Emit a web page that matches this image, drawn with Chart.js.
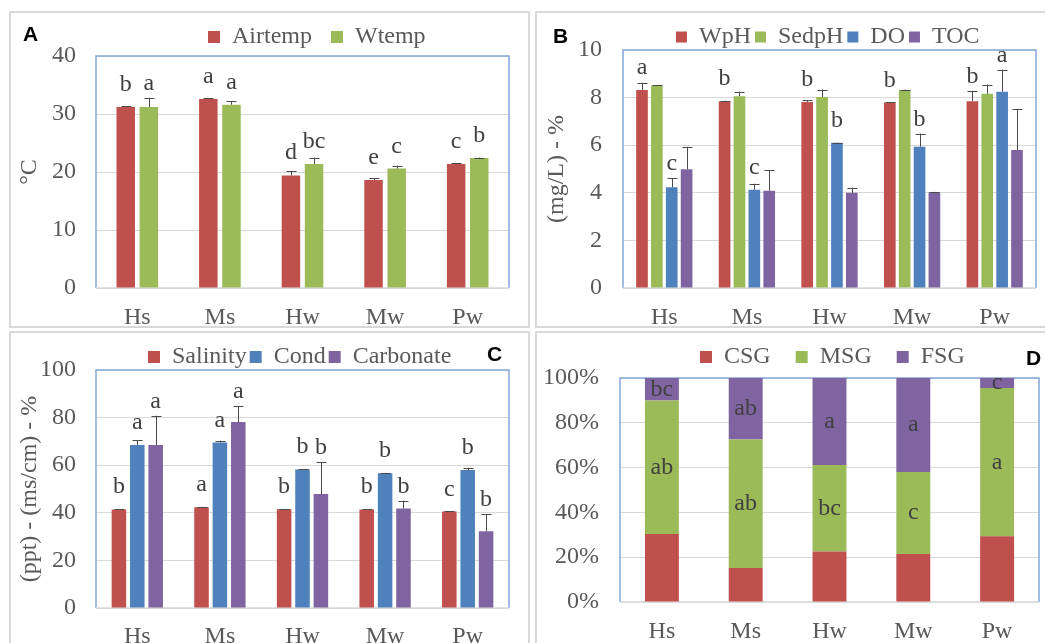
<!DOCTYPE html>
<html><head><meta charset="utf-8">
<script src="https://cdn.jsdelivr.net/npm/chart.js@4"></script>
<style>
html,body{margin:0;padding:0;background:#fff;width:1045px;height:643px;overflow:hidden;}
.box{position:absolute;border:2px solid #d9d9d9;box-sizing:border-box;}
canvas{position:absolute;}
.tag{position:absolute;font:bold 21px 'Liberation Sans',Arial,sans-serif;line-height:21px;color:#000;}
</style></head><body>
<div class="box" style="left:9px;top:11px;width:521px;height:317px"></div>
<div class="box" style="left:535px;top:11px;width:520px;height:317px"></div>
<div class="box" style="left:9px;top:331px;width:521px;height:400px"></div>
<div class="box" style="left:535px;top:331px;width:520px;height:400px"></div>
<canvas id="cA" width="518" height="316" style="left:10px;top:12px"></canvas>
<canvas id="cB" width="508" height="316" style="left:537px;top:12px"></canvas>
<canvas id="cC" width="518" height="320" style="left:10px;top:333px"></canvas>
<canvas id="cD" width="508" height="320" style="left:537px;top:333px"></canvas>
<div class="tag" style="left:23px;top:23px">A</div>
<div class="tag" style="left:553px;top:25px">B</div>
<div class="tag" style="left:487px;top:343px">C</div>
<div class="tag" style="left:1026px;top:347px">D</div>
<script>
// ---- data ----
const sites = ['Hs','Ms','Hw','Mw','Pw'];

const airtemp    = [31.2, 32.6, 19.4, 18.6, 21.4];
const airtempErr = [0.1, 0.15, 0.7, 0.3, 0.1];
const airtempSig = ['b','a','d','e','c'];
const wtemp      = [31.2, 31.6, 21.4, 20.6, 22.4];
const wtempErr   = [1.6, 0.6, 1.1, 0.5, 0.1];
const wtempSig   = ['a','a','bc','c','b'];
const ticksA     = [0, 10, 20, 30, 40];

const wph      = [8.32, 7.85, 7.82, 7.79, 7.85];
const wphErr   = [0.3, 0.02, 0.07, 0.02, 0.44];
const wphSig   = ['a','b','b','b','b'];
const sedph    = [8.51, 8.06, 8.02, 8.32, 8.16];
const sedphErr = [0.02, 0.19, 0.32, 0.02, 0.39];
const doVal    = [4.23, 4.13, 6.1, 5.94, 8.25];
const doErr    = [0.39, 0.25, 0.01, 0.55, 0.93];
const doSig    = ['c','c','b','b','a'];
const toc      = [4.99, 4.09, 4.0, 4.02, 5.8];
const tocErr   = [0.94, 0.85, 0.22, 0.02, 1.73];
const ticksB   = [0, 2, 4, 6, 8, 10];

const salinity     = [41.4, 42.3, 41.5, 41.4, 40.5];
const salinityErr  = [0.2, 0.2, 0.1, 0.2, 0.2];
const salinitySig  = ['b','a','b','b','c'];
const cond         = [68.5, 69.5, 58.2, 56.6, 58.0];
const condErr      = [2.0, 0.8, 0.2, 0.2, 0.9];
const condSig      = ['a','a','b','b','b'];
const carbonate    = [68.5, 78.1, 47.9, 41.8, 32.2];
const carbonateErr = [12.3, 6.7, 13.3, 3.3, 7.3];
const carbonateSig = ['a','a','b','b','b'];
const ticksC       = [0, 20, 40, 60, 80, 100];

const csg    = [30.4, 15.2, 22.5, 21.4, 29.3];
const msg    = [59.5, 57.4, 38.7, 36.6, 66.2];
const msgSig = ['ab','ab','bc','c','a'];
const fsg    = [10.1, 27.4, 38.8, 42.0, 4.5];
const fsgSig = ['bc','ab','a','a','c'];
const ticksD = [0, 20, 40, 60, 80, 100];

// ---- style ----
const FONT = "'Liberation Serif','Times New Roman',serif";
const FS = 24;
const TXT = '#595959';
const RED = '#c0504d', GREEN = '#9bbb59', BLUE = '#4f81bd', PURPLE = '#8064a2';
Chart.defaults.font.family = FONT;
Chart.defaults.font.size = FS;
Chart.defaults.color = TXT;

const plotFrame = {
  id: 'plotFrame',
  beforeDatasetsDraw(chart) {
    const {ctx, chartArea: a} = chart;
    ctx.save();
    ctx.lineWidth = 1.5;
    ctx.strokeStyle = '#82a8d8';
    ctx.beginPath();
    ctx.moveTo(a.left, a.bottom); ctx.lineTo(a.left, a.top);
    ctx.lineTo(a.right, a.top); ctx.lineTo(a.right, a.bottom);
    ctx.stroke();
    ctx.strokeStyle = '#d9d9d9';
    ctx.beginPath(); ctx.moveTo(a.left, a.bottom); ctx.lineTo(a.right, a.bottom); ctx.stroke();
    ctx.restore();
  }
};

const marks = {
  id: 'marks',
  afterDatasetsDraw(chart) {
    const {ctx} = chart;
    const ys = chart.scales.y;
    ctx.save();
    chart.data.datasets.forEach((ds, i) => {
      const meta = chart.getDatasetMeta(i);
      meta.data.forEach((bar, j) => {
        const top = bar.y;
        let errTop = null;
        const bx = Math.round(bar.x) + 0.5;
        if (ds.errPlus) {
          errTop = ys.getPixelForValue(ds.data[j] + ds.errPlus[j]);
          ctx.strokeStyle = '#4a4a4a'; ctx.lineWidth = 1;
          ctx.beginPath();
          ctx.moveTo(bx, top); ctx.lineTo(bx, errTop);
          ctx.moveTo(bx - 5, Math.round(errTop) + 0.5); ctx.lineTo(bx + 5, Math.round(errTop) + 0.5);
          ctx.stroke();
        }
        const s = ds.sig && ds.sig[j];
        if (s) {
          ctx.fillStyle = '#404040';
          ctx.font = FS + 'px ' + FONT;
          ctx.textAlign = 'center';
          if (ds.sigInside) {
            ctx.textBaseline = 'middle';
            ctx.fillText(s, bar.x, (bar.y + bar.base) / 2);
          } else {
            ctx.textBaseline = 'alphabetic';
            const base = Math.min(top - 16, (errTop === null ? top : errTop) - 8);
            ctx.fillText(s, bar.x, base);
          }
        }
      });
    });
    ctx.restore();
  }
};

function legendPlace(x, y) {
  return {
    id: 'legendPlace',
    afterUpdate(chart) {
      const L = chart.legend;
      if (!L || !L.legendHitBoxes || !L.legendHitBoxes.length) return;
      const p = L.options.labels.padding;
      const ih = FS;
      const dx = x - L.legendHitBoxes[0].left;
      const newTop = y - p - ih / 2;
      const dy = newTop - L.top;
      L.left += dx; L.right += dx;
      L.top = newTop; L.bottom = newTop + p + ih + 10;
      L.legendHitBoxes.forEach(h => { h.left += dx; h.top += dy; });
    }
  };
}

function build(id, datasets, o) {
  return new Chart(document.getElementById(id), {
    type: 'bar',
    data: {labels: sites, datasets},
    plugins: [plotFrame, marks, legendPlace(o.legX, o.legY)],
    options: {
      responsive: false, animation: false,
      layout: {padding: {left: 0, right: o.padR, top: 0, bottom: 0}},
      datasets: {bar: {barPercentage: o.barPct, categoryPercentage: o.catPct, borderWidth: 0}},
      plugins: {
        legend: {position: 'top', maxHeight: o.top,
          labels: {boxWidth: o.box, boxHeight: o.box, padding: o.legPad, color: TXT, font: {size: FS}}},
        tooltip: {enabled: false}
      },
      scales: {
        x: {stacked: !!o.stacked, grid: {display: false, drawTicks: false}, border: {display: false},
            ticks: {padding: o.xPad, color: TXT, font: {size: FS}},
            afterFit: s => { s.height = o.xH; }},
        y: {stacked: !!o.stacked, min: o.yTicks[0], max: o.yTicks[o.yTicks.length - 1],
            grid: {color: '#d9d9d9', drawTicks: false, lineWidth: 1}, border: {display: false},
            ticks: {stepSize: o.yTicks[1] - o.yTicks[0], padding: o.yPad, color: TXT, font: {size: FS},
                    callback: o.yFmt || (v => v)},
            title: {display: !!o.yTitle, text: o.yTitle || '', color: TXT, font: {size: FS}, padding: {top: 5, bottom: 0}},
            afterFit: s => { s.width = o.yW; }}
      }
    }
  });
}

build('cA', [
  {label: 'Airtemp', data: airtemp, backgroundColor: RED, errPlus: airtempErr, sig: airtempSig},
  {label: 'Wtemp', data: wtemp, backgroundColor: GREEN, errPlus: wtempErr, sig: wtempSig}
], {padR: 19, top: 44, xH: 40, yW: 86, xPad: 15, yPad: 20, yTicks: ticksA, yTitle: '°C',
    barPct: 0.8, catPct: 0.56, box: 12, legPad: 19, legX: 198, legY: 25});

build('cB', [
  {label: 'WpH', data: wph, backgroundColor: RED, errPlus: wphErr, sig: wphSig},
  {label: 'SedpH', data: sedph, backgroundColor: GREEN, errPlus: sedphErr},
  {label: 'DO', data: doVal, backgroundColor: BLUE, errPlus: doErr, sig: doSig},
  {label: 'TOC', data: toc, backgroundColor: PURPLE, errPlus: tocErr}
], {padR: 9, top: 44, xH: 40, yW: 86, xPad: 15, yPad: 21, yTicks: ticksB, yTitle: '(mg/L) - %',
    barPct: 0.785, catPct: 0.72, box: 11, legPad: 4, legX: 139, legY: 25});

build('cC', [
  {label: 'Salinity', data: salinity, backgroundColor: RED, errPlus: salinityErr, sig: salinitySig},
  {label: 'Cond', data: cond, backgroundColor: BLUE, errPlus: condErr, sig: condSig},
  {label: 'Carbonate', data: carbonate, backgroundColor: PURPLE, errPlus: carbonateErr, sig: carbonateSig}
], {padR: 19, top: 43, xH: 45, yW: 86, xPad: 14, yPad: 20, yTicks: ticksC, yTitle: '(ppt) - (ms/cm) - %',
    barPct: 0.79, catPct: 0.668, box: 12, legPad: 3, legX: 138, legY: 24});

build('cD', [
  {label: 'CSG', data: csg, backgroundColor: RED},
  {label: 'MSG', data: msg, backgroundColor: GREEN, sig: msgSig, sigInside: true},
  {label: 'FSG', data: fsg, backgroundColor: PURPLE, sig: fsgSig, sigInside: true}
], {padR: 6, top: 45, xH: 51, yW: 83, xPad: 15, yPad: 21, yTicks: ticksD, yFmt: v => v + '%',
    stacked: true, barPct: 0.405, catPct: 1, box: 12, legPad: 25, legX: 163, legY: 24});
</script>
</body></html>
